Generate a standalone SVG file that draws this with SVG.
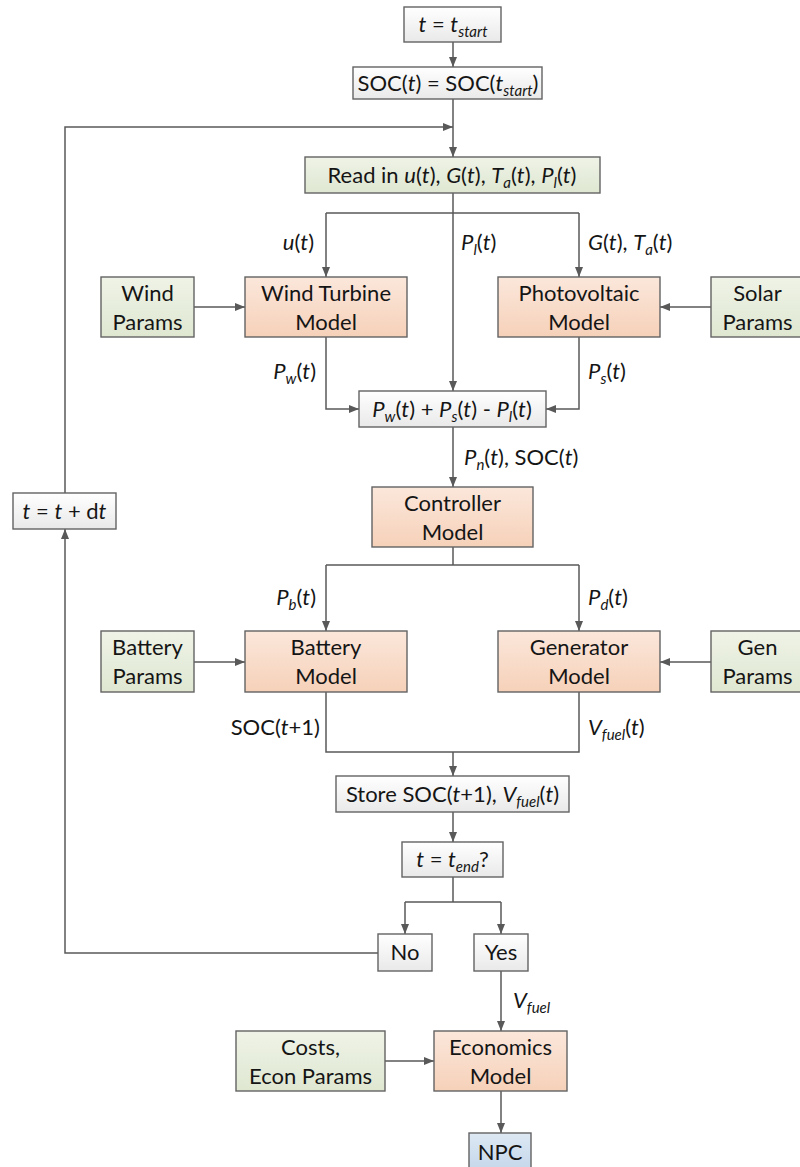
<svg xmlns="http://www.w3.org/2000/svg" width="800" height="1167" viewBox="0 0 800 1167">
<defs>
<linearGradient id="gG" x1="0" y1="0" x2="0" y2="1"><stop offset="0" stop-color="#eff3e7"/><stop offset="1" stop-color="#dfe7d1"/></linearGradient>
<linearGradient id="gO" x1="0" y1="0" x2="0" y2="1"><stop offset="0" stop-color="#fbe7db"/><stop offset="1" stop-color="#f6d1b9"/></linearGradient>
<linearGradient id="gW" x1="0" y1="0" x2="0" y2="1"><stop offset="0" stop-color="#ffffff"/><stop offset="1" stop-color="#e9e9e9"/></linearGradient>
<linearGradient id="gB" x1="0" y1="0" x2="0" y2="1"><stop offset="0" stop-color="#dde8f3"/><stop offset="1" stop-color="#c3d6ea"/></linearGradient>
<marker id="ar" markerUnits="userSpaceOnUse" markerWidth="10" markerHeight="10" viewBox="0 0 10 10" refX="10" refY="5" orient="auto"><path d="M0,1 L10,5 L0,9 Z" fill="#595959"/></marker>
<style>
.bx{stroke:#636363;stroke-width:1.4}
.g{fill:url(#gG)}.o{fill:url(#gO)}.w{fill:url(#gW)}.b{fill:url(#gB)}
text{font-family:Lato,"Open Sans","Liberation Sans",sans-serif;font-size:22px;fill:#151515}
.c{text-anchor:middle}.e{text-anchor:end}
.i{font-style:italic}
.s{font-size:15px;font-style:italic}
.ln{fill:none;stroke:#595959;stroke-width:1.5}
.a{marker-end:url(#ar)}
</style>
</defs>
<g id="connectors">
<path class="ln a" d="M453,42 V67"/>
<path class="ln a" d="M453,99 V157"/>
<path class="ln a" d="M378,953 H65 V529"/>
<path class="ln a" d="M65,493 V127 H453"/>
<path class="ln" d="M453,193 V213 M326,213 H579"/>
<path class="ln a" d="M326,213 V277"/>
<path class="ln a" d="M579,213 V277"/>
<path class="ln a" d="M453,213 V391"/>
<path class="ln a" d="M194,307 H245"/>
<path class="ln a" d="M711,307 H660"/>
<path class="ln a" d="M326,337 V409 H359"/>
<path class="ln a" d="M579,337 V409 H546"/>
<path class="ln a" d="M453,427 V487"/>
<path class="ln" d="M453,547 V565 M326,565 H579"/>
<path class="ln a" d="M326,565 V631"/>
<path class="ln a" d="M579,565 V631"/>
<path class="ln a" d="M194,662 H245"/>
<path class="ln a" d="M711,662 H660"/>
<path class="ln" d="M326,692 V752 H579 V692"/>
<path class="ln a" d="M453,752 V776"/>
<path class="ln a" d="M453,812 V842"/>
<path class="ln" d="M453,877 V902 M405,902 H501"/>
<path class="ln a" d="M405,902 V934"/>
<path class="ln a" d="M501,902 V934"/>
<path class="ln a" d="M501,971 V1031"/>
<path class="ln a" d="M385,1061 H434"/>
<path class="ln a" d="M501,1091 V1133"/>
</g>
<g id="edge-labels">
<text class="e" x="314" y="250"><tspan class="i">u</tspan>(<tspan class="i">t</tspan>)</text>
<text x="461" y="250"><tspan class="i">P</tspan><tspan class="s" dy="5">l</tspan><tspan dy="-5">(</tspan><tspan class="i">t</tspan>)</text>
<text x="588" y="250"><tspan class="i">G</tspan>(<tspan class="i">t</tspan>), <tspan class="i">T</tspan><tspan class="s" dy="5">a</tspan><tspan dy="-5">(</tspan><tspan class="i">t</tspan>)</text>
<text class="e" x="316" y="379"><tspan class="i">P</tspan><tspan class="s" dy="5">w</tspan><tspan dy="-5">(</tspan><tspan class="i">t</tspan>)</text>
<text x="588" y="379"><tspan class="i">P</tspan><tspan class="s" dy="5">s</tspan><tspan dy="-5">(</tspan><tspan class="i">t</tspan>)</text>
<text x="464" y="465"><tspan class="i">P</tspan><tspan class="s" dy="5">n</tspan><tspan dy="-5">(</tspan><tspan class="i">t</tspan>), SOC(<tspan class="i">t</tspan>)</text>
<text class="e" x="316" y="605"><tspan class="i">P</tspan><tspan class="s" dy="5">b</tspan><tspan dy="-5">(</tspan><tspan class="i">t</tspan>)</text>
<text x="588" y="605"><tspan class="i">P</tspan><tspan class="s" dy="5">d</tspan><tspan dy="-5">(</tspan><tspan class="i">t</tspan>)</text>
<text class="e" x="320" y="735">SOC(<tspan class="i">t</tspan>+1)</text>
<text x="588" y="735"><tspan class="i">V</tspan><tspan class="s" dy="5">fuel</tspan><tspan dy="-5">(</tspan><tspan class="i">t</tspan>)</text>
<text x="513" y="1008"><tspan class="i">V</tspan><tspan class="s" dy="5">fuel</tspan></text>
</g>
<g id="n-start"><rect class="bx w" x="404" y="7" width="97" height="35"/><text class="c" x="453" y="32"><tspan class="i">t</tspan> = <tspan class="i">t</tspan><tspan class="s" dy="5">start</tspan></text></g>
<g id="n-soc0"><rect class="bx w" x="353" y="67" width="189" height="32"/><text class="c" x="448" y="91">SOC(<tspan class="i">t</tspan>) = SOC(<tspan class="i">t</tspan><tspan class="s" dy="5">start</tspan><tspan dy="-5">)</tspan></text></g>
<g id="n-read"><rect class="bx g" x="305" y="157" width="295" height="36"/><text class="c" x="452" y="183">Read in <tspan class="i">u</tspan>(<tspan class="i">t</tspan>), <tspan class="i">G</tspan>(<tspan class="i">t</tspan>), <tspan class="i">T</tspan><tspan class="s" dy="5">a</tspan><tspan dy="-5">(</tspan><tspan class="i">t</tspan>), <tspan class="i">P</tspan><tspan class="s" dy="5">l</tspan><tspan dy="-5">(</tspan><tspan class="i">t</tspan>)</text></g>
<g id="n-windp"><rect class="bx g" x="101" y="277" width="93" height="60"/><text class="c" x="147.5" y="301">Wind</text><text class="c" x="147.5" y="330">Params</text></g>
<g id="n-windt"><rect class="bx o" x="245" y="277" width="162" height="60"/><text class="c" x="326" y="301">Wind Turbine</text><text class="c" x="326" y="330">Model</text></g>
<g id="n-pv"><rect class="bx o" x="498" y="277" width="162" height="60"/><text class="c" x="579" y="301">Photovoltaic</text><text class="c" x="579" y="330">Model</text></g>
<g id="n-solarp"><rect class="bx g" x="711" y="277" width="93" height="60"/><text class="c" x="757.5" y="301">Solar</text><text class="c" x="757.5" y="330">Params</text></g>
<g id="n-sum"><rect class="bx w" x="359" y="391" width="187" height="36"/><text class="c" x="452" y="417"><tspan class="i">P</tspan><tspan class="s" dy="5">w</tspan><tspan dy="-5">(</tspan><tspan class="i">t</tspan>) + <tspan class="i">P</tspan><tspan class="s" dy="5">s</tspan><tspan dy="-5">(</tspan><tspan class="i">t</tspan>) - <tspan class="i">P</tspan><tspan class="s" dy="5">l</tspan><tspan dy="-5">(</tspan><tspan class="i">t</tspan>)</text></g>
<g id="n-ctrl"><rect class="bx o" x="372" y="487" width="161" height="60"/><text class="c" x="452.5" y="511">Controller</text><text class="c" x="452.5" y="540">Model</text></g>
<g id="n-dt"><rect class="bx w" x="13" y="493" width="103" height="36"/><text class="c" x="64.5" y="519"><tspan class="i">t</tspan> = <tspan class="i">t</tspan> + d<tspan class="i">t</tspan></text></g>
<g id="n-battp"><rect class="bx g" x="101" y="631" width="93" height="61"/><text class="c" x="147.5" y="655">Battery</text><text class="c" x="147.5" y="684">Params</text></g>
<g id="n-batt"><rect class="bx o" x="245" y="631" width="162" height="61"/><text class="c" x="326" y="655">Battery</text><text class="c" x="326" y="684">Model</text></g>
<g id="n-gen"><rect class="bx o" x="498" y="631" width="162" height="61"/><text class="c" x="579" y="655">Generator</text><text class="c" x="579" y="684">Model</text></g>
<g id="n-genp"><rect class="bx g" x="711" y="631" width="93" height="61"/><text class="c" x="757.5" y="655">Gen</text><text class="c" x="757.5" y="684">Params</text></g>
<g id="n-store"><rect class="bx w" x="336" y="776" width="233" height="36"/><text class="c" x="452.5" y="802">Store SOC(<tspan class="i">t</tspan>+1), <tspan class="i">V</tspan><tspan class="s" dy="5">fuel</tspan><tspan dy="-5">(</tspan><tspan class="i">t</tspan>)</text></g>
<g id="n-tend"><rect class="bx w" x="402" y="842" width="101" height="35"/><text class="c" x="452.5" y="867"><tspan class="i">t</tspan> = <tspan class="i">t</tspan><tspan class="s" dy="5">end</tspan><tspan dy="-5">?</tspan></text></g>
<g id="n-no"><rect class="bx w" x="378" y="934" width="54" height="37"/><text class="c" x="405" y="960">No</text></g>
<g id="n-yes"><rect class="bx w" x="474" y="934" width="54" height="37"/><text class="c" x="501" y="960">Yes</text></g>
<g id="n-costs"><rect class="bx g" x="236" y="1031" width="149" height="60"/><text class="c" x="310.5" y="1055">Costs,</text><text class="c" x="310.5" y="1084">Econ Params</text></g>
<g id="n-econ"><rect class="bx o" x="434" y="1031" width="133" height="60"/><text class="c" x="500.5" y="1055">Economics</text><text class="c" x="500.5" y="1084">Model</text></g>
<g id="n-npc"><rect class="bx b" x="469" y="1133" width="62" height="40"/><text class="c" x="500" y="1160">NPC</text></g>
</svg>
